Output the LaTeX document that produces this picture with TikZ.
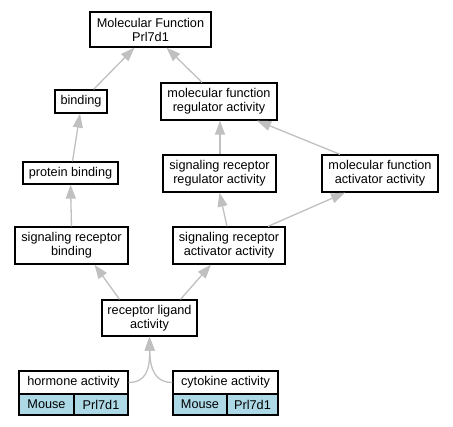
\documentclass[tikz,border=0pt]{standalone}
\usepackage{fontspec}
\setmainfont{Liberation Sans}
\usetikzlibrary{arrows.meta}
\definecolor{edgegray}{HTML}{C0C0C0}
\definecolor{recblue}{HTML}{ADD8E6}
\begin{document}
\begin{tikzpicture}[x=1pt,y=-1pt,
  box/.style={draw=black,line width=1.3pt,fill=white,inner sep=0pt,align=center,
    font=\fontsize{12.7}{14}\selectfont},
  cell/.style={draw=black,line width=1.3pt,fill=recblue,inner sep=0pt,
    font=\fontsize{12.7}{14}\selectfont},
  edge/.style={draw=edgegray,line width=1.3pt,-{Triangle[length=14pt,width=10pt,fill=edgegray]}}]
\useasboundingbox (0,0) rectangle (453,427);
\node[box,minimum width=121pt,minimum height=35pt] (mf) at (150.5,29.5) {Molecular Function\\Prl7d1};
\node[box,minimum width=52pt,minimum height=23pt] (bind) at (81,101.5) {binding};
\node[box,minimum width=116pt,minimum height=37pt] (mfr) at (219,101.5) {molecular function\\regulator activity};
\node[box,minimum width=95pt,minimum height=22pt] (pb) at (70.5,173) {protein binding};
\node[box,minimum width=113pt,minimum height=37pt] (srr) at (219.5,173.5) {signaling receptor\\regulator activity};
\node[box,minimum width=116pt,minimum height=37pt] (mfa) at (380,173.5) {molecular function\\activator activity};
\node[box,minimum width=113pt,minimum height=37pt] (srb) at (71.5,245.5) {signaling receptor\\binding};
\node[box,minimum width=112pt,minimum height=37pt] (sra) at (229,245.5) {signaling receptor\\activator activity};
\node[box,minimum width=95pt,minimum height=36pt] (rla) at (149.5,318) {receptor ligand\\activity};
% hormone record
\node[box,minimum width=109pt,minimum height=23pt] (h) at (73.5,382.5) {hormone activity};
\node[cell,minimum width=55pt,minimum height=21pt] (hm) at (46.5,404.5) {Mouse};
\node[cell,minimum width=54pt,minimum height=21pt] (hp) at (101,404.5) {Prl7d1};
% cytokine record
\node[box,minimum width=105pt,minimum height=23pt] (c) at (225.5,382.5) {cytokine activity};
\node[cell,minimum width=54pt,minimum height=21pt] (cm) at (200,404.5) {Mouse};
\node[cell,minimum width=51pt,minimum height=21pt] (cp) at (252.5,404.5) {Prl7d1};
% edges
\draw[edge] ([xshift=-14pt]bind.north east) -- ([xshift=-16pt]mf.south);
\draw[edge] ([xshift=-17pt]mfr.north) -- ([xshift=16pt]mf.south);
\draw[edge] ([xshift=2pt]pb.north) -- ([xshift=-1pt]bind.south);
\draw[edge] ([xshift=0.5pt]srr.north) -- ([xshift=1pt]mfr.south);
\draw[edge] ([xshift=-40pt]mfa.north) -- ([xshift=38pt]mfr.south);
\draw[edge] (srb.north) -- (pb.south);
\draw[edge] ([xshift=-2pt]sra.north) -- ([xshift=0pt]srr.south);
\draw[edge] ([xshift=39pt]sra.north) -- ([xshift=-35pt]mfa.south);
\draw[edge] ([xshift=-30pt]rla.north) -- ([xshift=23pt]srb.south);
\draw[edge] ([xshift=31pt]rla.north) -- ([xshift=-18pt]sra.south);
\draw[edge] (h.east) .. controls +(17pt,0) and (150,370) .. (rla.south);
\draw[edge] (c.west) .. controls +(-17pt,0) and (150,370) .. (rla.south);
\end{tikzpicture}
\end{document}
